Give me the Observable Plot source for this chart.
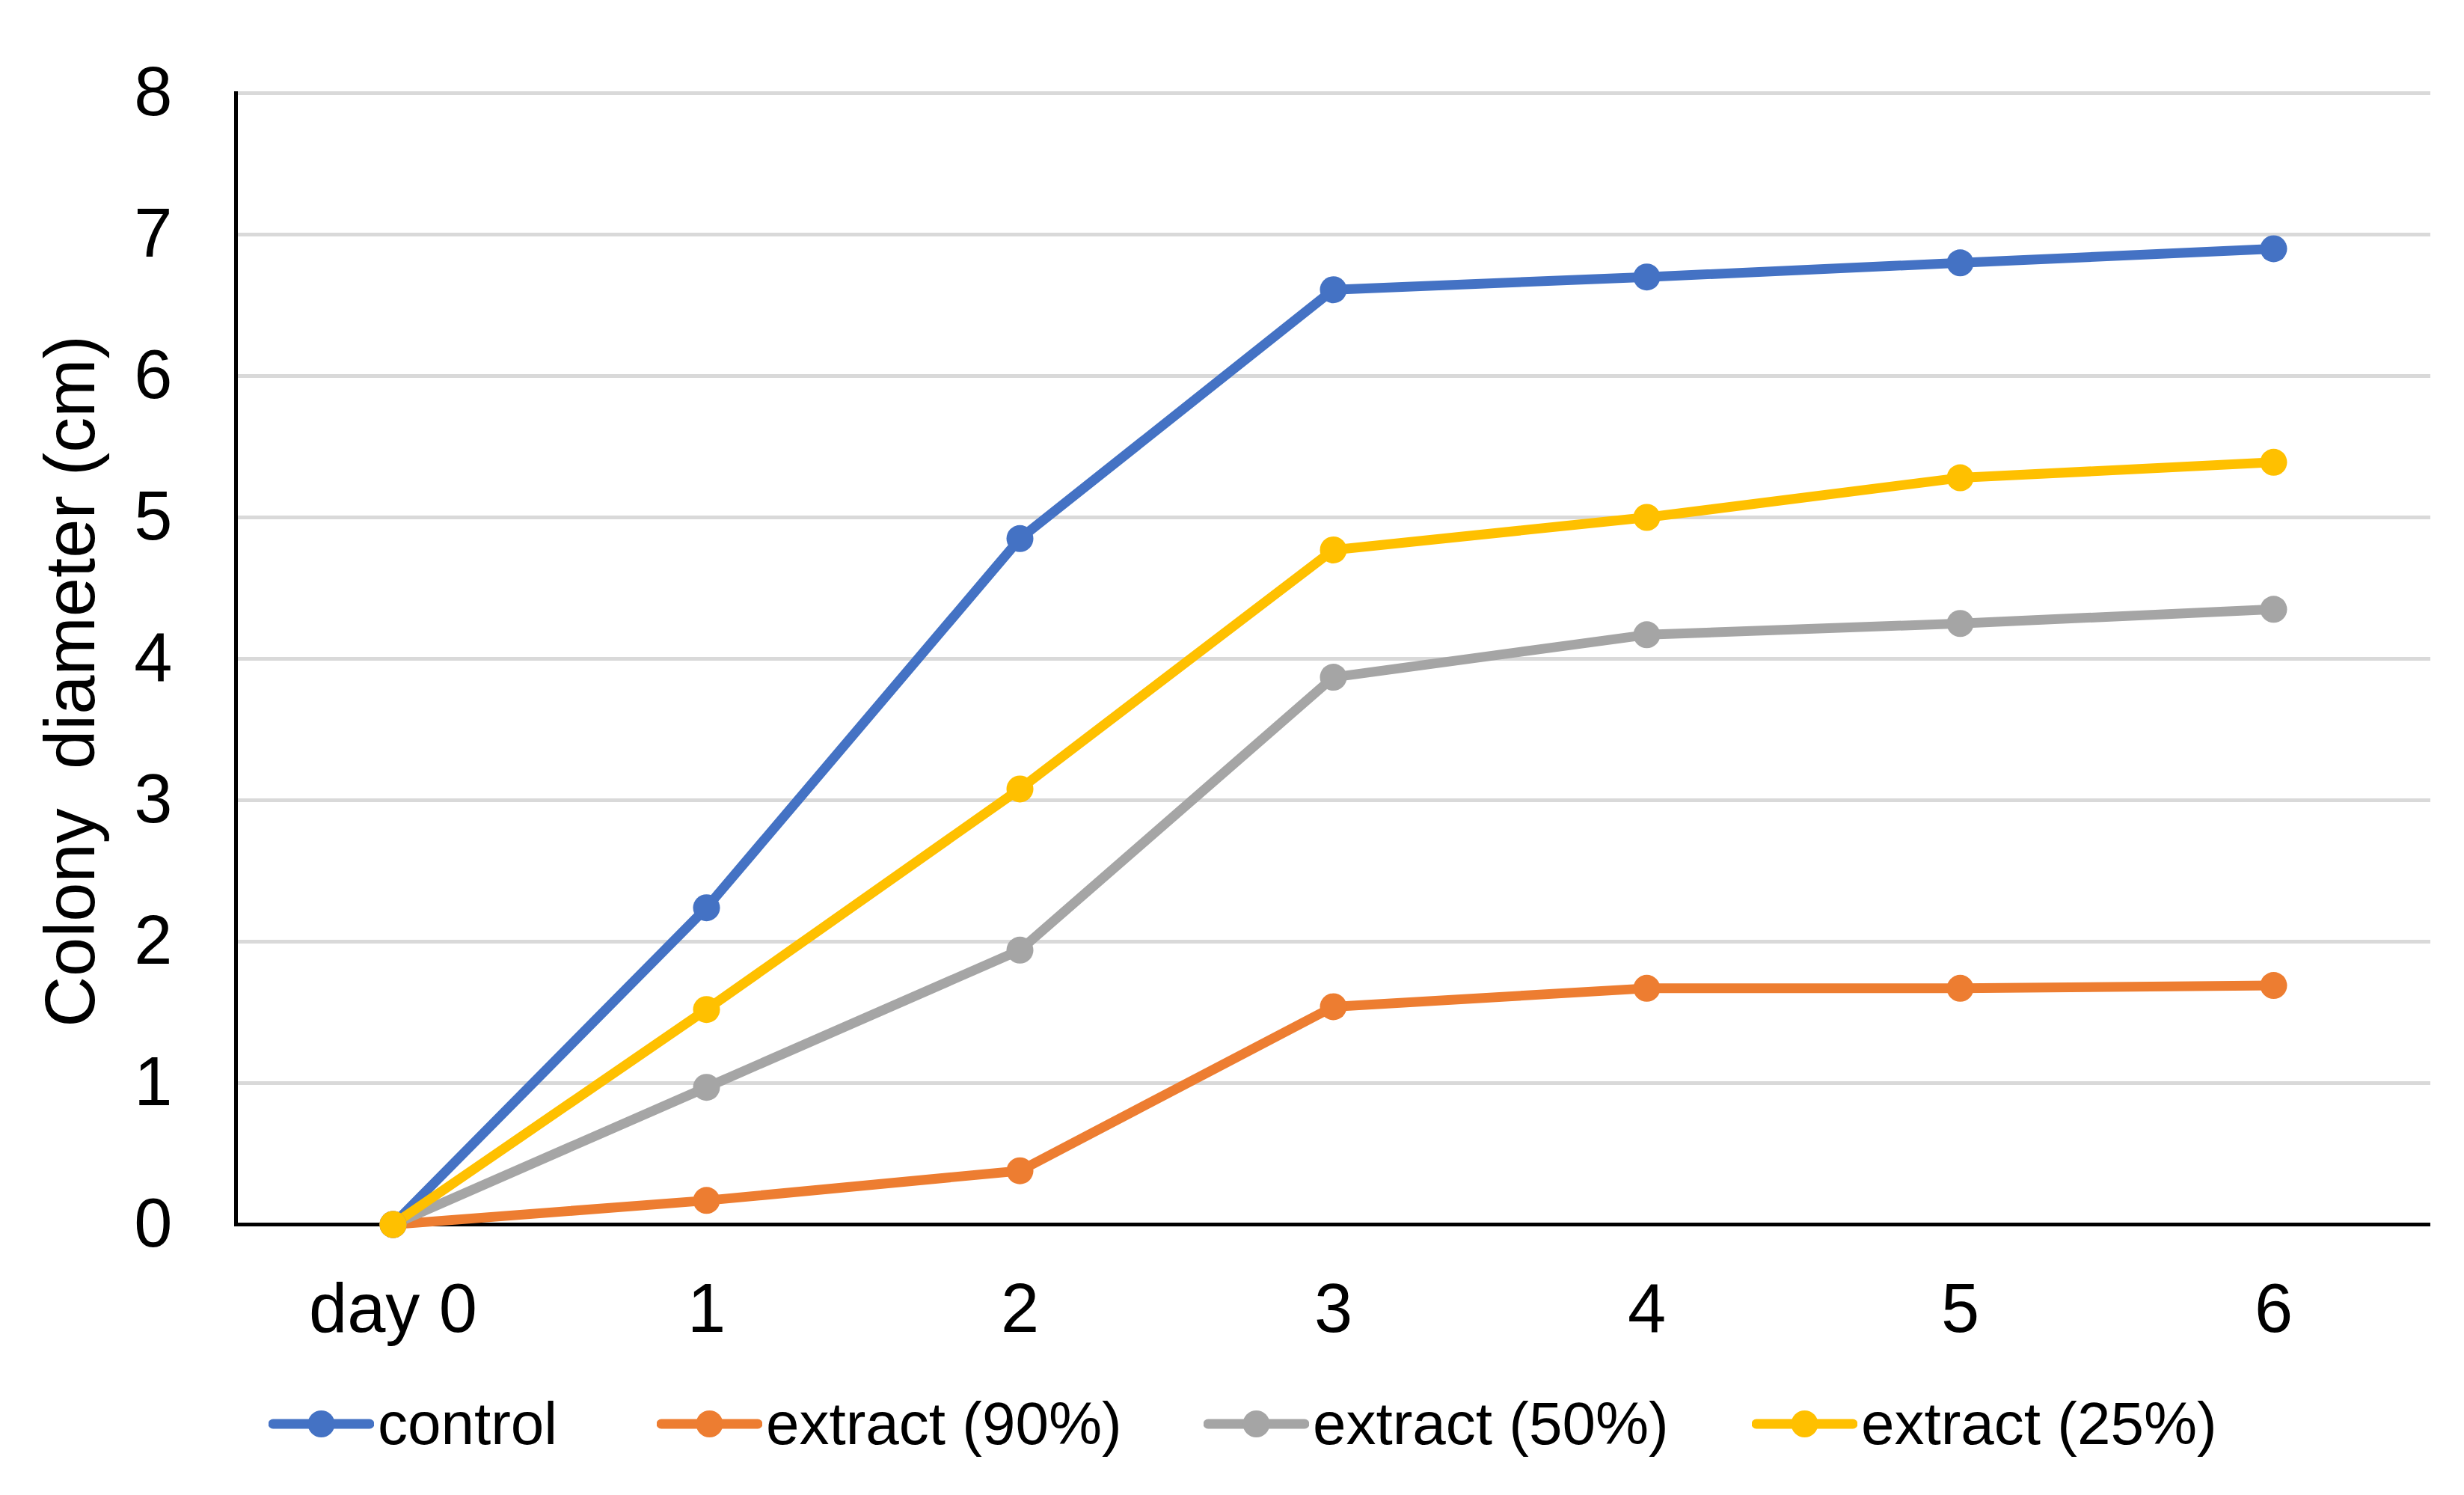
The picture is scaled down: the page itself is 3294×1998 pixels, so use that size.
<!DOCTYPE html>
<html>
<head>
<meta charset="utf-8">
<script src="https://cdn.jsdelivr.net/npm/d3@7"></script>
<script src="https://cdn.jsdelivr.net/npm/@observablehq/plot@0.6"></script>
<style>
  html, body { margin: 0; padding: 0; background: #fff; }
  #chart svg text { white-space: pre; }
  #legend { position: relative; width: 3294px; height: 168px; font-family: "Liberation Sans", Arial, sans-serif; font-size: 80px; color: #000; }
  .item { position: absolute; top: 0; height: 146px; display: flex; align-items: center; white-space: nowrap; }
  .item svg { margin-right: 5px; }
</style>
</head>
<body>
<div id="chart"></div>
<div id="legend"></div>
<script>
const days = ["day 0", "1", "2", "3", "4", "5", "6"];
const yTicks = [0, 1, 2, 3, 4, 5, 6, 7, 8];
const seriesNames = ["control", "extract (90%)", "extract (50%)", "extract (25%)"];
const seriesColors = ["#4472C4", "#ED7D31", "#A5A5A5", "#FFC000"];
const control   = [0, 2.24, 4.85, 6.61, 6.70, 6.80, 6.90];
const extract90 = [0, 0.17, 0.38, 1.54, 1.67, 1.67, 1.69];
const extract50 = [0, 0.97, 1.94, 3.87, 4.17, 4.25, 4.35];
const extract25 = [0, 1.52, 3.08, 4.77, 5.00, 5.28, 5.39];
const yTitle = "Colony  diameter (cm)";

const seriesValues = [control, extract90, extract50, extract25];
const data = seriesNames.flatMap((name, i) =>
  days.map((day, j) => ({ series: name, day, value: seriesValues[i][j] }))
);

const chart = Plot.plot({
  width: 3294,
  height: 1830,
  marginTop: 124,
  marginLeft: 315,
  marginRight: 45,
  marginBottom: 194,
  style: { fontFamily: "'Liberation Sans', Arial, sans-serif", fontSize: "92px", color: "#000", background: "#fff" },
  x: { type: "point", domain: days, padding: 0.5, label: null },
  y: { domain: [0, 8], label: null },
  color: { domain: seriesNames, range: seriesColors },
  marks: [
    Plot.gridY(yTicks.filter(d => d > 0), { stroke: "#d9d9d9", strokeOpacity: 1, strokeWidth: 5 }),
    Plot.ruleY([0], { stroke: "#000", strokeWidth: 5 }),
    Plot.frame({ anchor: "left", stroke: "#000", strokeWidth: 5 }),
    Plot.axisY(yTicks, { tickSize: 0, tickPadding: 85, fontSize: 92, tickFormat: d => String(d) }),
    Plot.axisX({ tickSize: 0, tickPadding: 78, fontSize: 92 }),
    Plot.lineY(data, { x: "day", y: "value", z: "series", stroke: "series", strokeWidth: 13, strokeLinejoin: "round" }),
    Plot.dot(data, { x: "day", y: "value", fill: "series", r: 18 }),
    Plot.text([yTitle], { frameAnchor: "left", rotate: -90, dx: -220, dy: 30, fontSize: 94, textAnchor: "middle", lineAnchor: "middle", fill: "#000" })
  ]
});
document.getElementById("chart").appendChild(chart);

const legendLefts = [359, 878, 1609, 2342];
const legend = document.getElementById("legend");
seriesNames.forEach((name, i) => {
  const item = document.createElement("div");
  item.className = "item";
  item.style.left = legendLefts[i] + "px";
  item.innerHTML = `<svg width="141" height="40" viewBox="0 0 141 40">
      <line x1="6" y1="20" x2="135" y2="20" stroke="${seriesColors[i]}" stroke-width="13" stroke-linecap="round"/>
      <circle cx="70.5" cy="20" r="18" fill="${seriesColors[i]}"/>
    </svg><span>${name}</span>`;
  legend.appendChild(item);
});
</script>
</body>
</html>
